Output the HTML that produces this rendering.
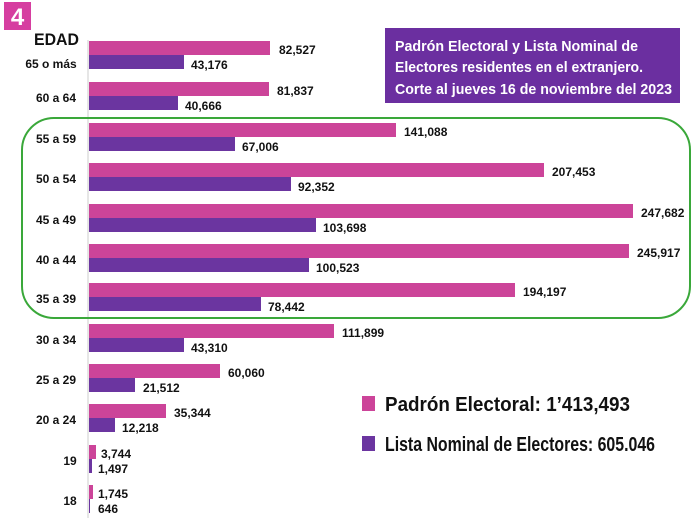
<!DOCTYPE html>
<html><head><meta charset="utf-8"><style>
html,body{margin:0;padding:0;background:#fff;}
svg text{font-family:"Liberation Sans",sans-serif;font-weight:bold;fill:#111;}
</style></head><body>
<svg width="700" height="518" viewBox="0 0 700 518" xmlns="http://www.w3.org/2000/svg">
<rect x="4" y="2" width="27" height="28" fill="#d63ea0"/>
<text x="17.5" y="25" font-size="24" text-anchor="middle" style="fill:#fff">4</text>
<text x="34" y="45" font-size="17" textLength="45" lengthAdjust="spacingAndGlyphs">EDAD</text>
<line x1="88" y1="40" x2="88" y2="518" stroke="#ccc" stroke-width="1"/>
<rect x="385" y="28" width="295" height="75" fill="#6b2fa0"/>
<text font-size="15" style="fill:#fff"><tspan x="395" y="51" textLength="243" lengthAdjust="spacingAndGlyphs">Padrón Electoral y Lista Nominal de</tspan></text>
<text font-size="15" style="fill:#fff"><tspan x="395" y="72" textLength="248" lengthAdjust="spacingAndGlyphs">Electores residentes en el extranjero.</tspan></text>
<text font-size="15" style="fill:#fff"><tspan x="395" y="94" textLength="277" lengthAdjust="spacingAndGlyphs">Corte al jueves 16 de noviembre del 2023</tspan></text>
<rect x="22" y="118" width="668" height="200" rx="32" fill="none" stroke="#3aa83a" stroke-width="2"/>
<rect x="362" y="396" width="13" height="15" fill="#cc4499"/>
<text x="385" y="411" font-size="20" textLength="245" lengthAdjust="spacingAndGlyphs">Padrón Electoral: 1’413,493</text>
<rect x="362" y="436" width="13" height="15" fill="#6b35a0"/>
<text x="385" y="451" font-size="20" textLength="270" lengthAdjust="spacingAndGlyphs">Lista Nominal de Electores: 605.046</text>
<g font-size="12">
<g transform="translate(0,41)"><text x="51" y="27" text-anchor="middle">65 o más</text><rect x="89" y="0" width="181" height="14" fill="#cc4499"/><rect x="89" y="14" width="95" height="14" fill="#6b35a0"/><text x="279" y="13">82,527</text><text x="191" y="28">43,176</text></g>
<g transform="translate(0,82)"><text x="56" y="20" text-anchor="middle">60 a 64</text><rect x="89" y="0" width="180" height="14" fill="#cc4499"/><rect x="89" y="14" width="89" height="14" fill="#6b35a0"/><text x="277" y="13">81,837</text><text x="185" y="28">40,666</text></g>
<g transform="translate(0,123)"><text x="56" y="20" text-anchor="middle">55 a 59</text><rect x="89" y="0" width="307" height="14" fill="#cc4499"/><rect x="89" y="14" width="146" height="14" fill="#6b35a0"/><text x="404" y="13">141,088</text><text x="242" y="28">67,006</text></g>
<g transform="translate(0,163)"><text x="56" y="20" text-anchor="middle">50 a 54</text><rect x="89" y="0" width="455" height="14" fill="#cc4499"/><rect x="89" y="14" width="202" height="14" fill="#6b35a0"/><text x="552" y="13">207,453</text><text x="298" y="28">92,352</text></g>
<g transform="translate(0,204)"><text x="56" y="20" text-anchor="middle">45 a 49</text><rect x="89" y="0" width="544" height="14" fill="#cc4499"/><rect x="89" y="14" width="227" height="14" fill="#6b35a0"/><text x="641" y="13">247,682</text><text x="323" y="28">103,698</text></g>
<g transform="translate(0,244)"><text x="56" y="20" text-anchor="middle">40 a 44</text><rect x="89" y="0" width="540" height="14" fill="#cc4499"/><rect x="89" y="14" width="220" height="14" fill="#6b35a0"/><text x="637" y="13">245,917</text><text x="316" y="28">100,523</text></g>
<g transform="translate(0,283)"><text x="56" y="20" text-anchor="middle">35 a 39</text><rect x="89" y="0" width="426" height="14" fill="#cc4499"/><rect x="89" y="14" width="172" height="14" fill="#6b35a0"/><text x="523" y="13">194,197</text><text x="268" y="28">78,442</text></g>
<g transform="translate(0,324)"><text x="56" y="20" text-anchor="middle">30 a 34</text><rect x="89" y="0" width="245" height="14" fill="#cc4499"/><rect x="89" y="14" width="95" height="14" fill="#6b35a0"/><text x="342" y="13">111,899</text><text x="191" y="28">43,310</text></g>
<g transform="translate(0,364)"><text x="56" y="20" text-anchor="middle">25 a 29</text><rect x="89" y="0" width="131" height="14" fill="#cc4499"/><rect x="89" y="14" width="46" height="14" fill="#6b35a0"/><text x="228" y="13">60,060</text><text x="143" y="28">21,512</text></g>
<g transform="translate(0,404)"><text x="56" y="20" text-anchor="middle">20 a 24</text><rect x="89" y="0" width="77" height="14" fill="#cc4499"/><rect x="89" y="14" width="26" height="14" fill="#6b35a0"/><text x="174" y="13">35,344</text><text x="122" y="28">12,218</text></g>
<g transform="translate(0,445)"><text x="70" y="20" text-anchor="middle">19</text><rect x="89" y="0" width="7" height="14" fill="#cc4499"/><rect x="89" y="14" width="3" height="14" fill="#6b35a0"/><text x="101" y="13">3,744</text><text x="98" y="28">1,497</text></g>
<g transform="translate(0,485)"><text x="70" y="20" text-anchor="middle">18</text><rect x="89" y="0" width="4" height="14" fill="#cc4499"/><rect x="89" y="14" width="1" height="14" fill="#6b35a0"/><text x="98" y="13">1,745</text><text x="98" y="28">646</text></g>
</g>
</svg>
</body></html>
